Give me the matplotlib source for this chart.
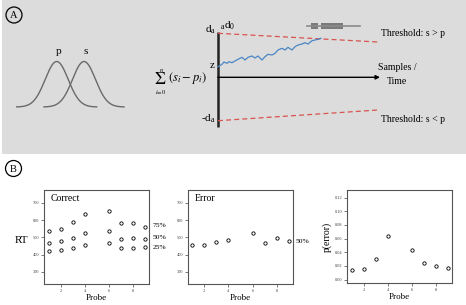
"""
Two-panel figure: (A) accumulator schematic, (B) RT quantiles and error rates by probe.
"""

import numpy as np
import matplotlib
matplotlib.use("Agg")
import matplotlib.pyplot as plt
from matplotlib.patches import Rectangle, Circle

plt.rcParams["font.family"] = ["Liberation Serif", "DejaVu Serif"]
plt.rcParams["mathtext.fontset"] = "stix"

#####################################
# Data
#####################################

probe = [1, 2, 3, 4, 6, 7, 8, 9]

rt_correct_75 = [538, 550, 590, 638, 656, 581, 583, 562]
rt_correct_50 = [467, 479, 498, 527, 540, 492, 494, 492]
rt_correct_25 = [421, 429, 438, 454, 467, 440, 440, 442]

rt_error_50 = [454, 454, 471, 483, 525, 469, 494, 477]

p_error = [0.0141, 0.0155, 0.0296, 0.0640, 0.0437, 0.0243, 0.0199, 0.0170]

# schematic pieces (panel A, pixel units)
dist_means = {"p": 56.7, "s": 84.0}
dist_sd = 11.5
walk_t = [218, 222, 224, 227, 229, 232, 235, 238, 242, 245, 248, 252, 255, 258,
          262, 265, 268, 272, 275, 278, 282, 285, 288, 292, 295, 298, 302, 305,
          308, 312, 315, 318, 321]
walk_y = [66.7, 64.3, 62.0, 63.3, 61.7, 62.7, 61.0, 59.3, 57.3, 60.0, 57.3, 56.0,
          58.0, 56.0, 60.0, 56.7, 54.3, 55.0, 53.3, 50.0, 48.3, 50.0, 47.3, 50.0,
          46.7, 45.0, 44.0, 42.7, 44.0, 40.7, 40.0, 39.3, 38.3]

#####################################
# Figure
#####################################

W, H = 466, 305
fig = plt.figure(figsize=(W / 100, H / 100), dpi=100)
fig.patch.set_facecolor("white")

# overlay axes in pixel units for the schematic
ov = fig.add_axes([0, 0, 1, 1])
ov.set_xlim(0, W)
ov.set_ylim(H, 0)
ov.axis("off")

ov.add_patch(Rectangle((2, 0), W - 2, 154, facecolor="#dcdcdc", edgecolor="none", zorder=0))

# panel letters
for lbl, cx, cy in [("A", 14, 15), ("B", 13.5, 168.5)]:
    ov.add_patch(Circle((cx, cy), 8, facecolor="none", edgecolor="black", lw=0.9))
    ov.text(cx, cy + 0.5, lbl, ha="center", va="center", fontsize=7.5)

# two overlapping distributions
for name, mu in dist_means.items():
    xs = np.linspace(mu - 40, mu + 40, 200)
    ys = 107 - 45.5 * np.exp(-0.5 * ((xs - mu) / dist_sd) ** 2)
    ov.plot(xs, ys, color="#6a6a6a", lw=1.0)
    ov.text(mu + 1.5, 56, name, ha="center", va="bottom", fontsize=8)

# summation label
ov.text(160.5, 80.5, r"$\Sigma$", ha="center", va="center", fontsize=12.5)
ov.text(161, 70.5, r"$n$", ha="center", va="center", fontsize=4.5)
ov.text(160.5, 92, r"$i\!=\!0$", ha="center", va="center", fontsize=4.5)
ov.text(167.5, 78, r"$(s_i - p_i)$", ha="left", va="center", fontsize=9)

# accumulator axes
ov.plot([217.7, 217.7], [32, 127], color="#222222", lw=1.8, solid_capstyle="butt")
ov.annotate("", xy=(380, 77.3), xytext=(217.7, 77.3),
            arrowprops=dict(arrowstyle="-|>", color="black", lw=1.0,
                            mutation_scale=6, shrinkA=0, shrinkB=0))

# thresholds
ov.plot([218, 378], [33.3, 42], color="#d9534f", lw=0.9, ls=(0, (4, 2.5)))
ov.plot([218, 378], [120.7, 110], color="#d9534f", lw=0.9, ls=(0, (4, 2.5)))

# evidence path
ov.plot(walk_t, walk_y, color="#4a86c5", lw=0.9)

# RT distribution box
ov.plot([307, 360], [25.5, 25.5], color="#8a8a8a", lw=1.2)
ov.add_patch(Rectangle((310.7, 22.5), 7.3, 6.5, facecolor="#7a7a7a", edgecolor="none"))
ov.add_patch(Rectangle((320.7, 22.5), 22.3, 6.5, facecolor="#7a7a7a", edgecolor="none"))

# labels
ov.text(216, 30, r"d$_\mathregular{a}$", ha="right", va="center", fontsize=8)
ov.text(220, 26, r"$_\mathregular{a}$d$_\mathregular{0}$", ha="left", va="center", fontsize=8)
ov.text(215, 66, "z", ha="right", va="center", fontsize=8)
ov.text(216, 119, r"-d$_\mathregular{a}$", ha="right", va="center", fontsize=8)
ov.text(381, 33.3, "Threshold: s > p", ha="left", va="center", fontsize=7)
ov.text(381, 119, "Threshold: s < p", ha="left", va="center", fontsize=7)
ov.text(397, 68, "Samples /", ha="center", va="center", fontsize=7)
ov.text(397, 81, "Time", ha="center", va="center", fontsize=7)

#####################################
# Panel B
#####################################

def style(ax):
    for sp in ax.spines.values():
        sp.set_color("#555555")
        sp.set_linewidth(0.8)
    ax.tick_params(length=2, width=0.5, labelsize=3.2, colors="#444444", pad=1.5)
    ax.set_xticks([2, 4, 6, 8])
    ax.set_xlabel("Probe", fontsize=6.5, labelpad=1)
    ax.patch.set_alpha(0)

mk = dict(ls="none", marker="o", ms=2.4, mfc="white", mec="black", mew=0.6)

ax1 = fig.add_axes([44 / W, 21 / H, 105 / W, 94 / H])
for vals in (rt_correct_75, rt_correct_50, rt_correct_25):
    ax1.plot(probe, vals, **mk)
ax1.set_xlim(0.6, 9.3)
ax1.set_ylim(230, 775)
ax1.set_yticks([300, 400, 500, 600, 700])
style(ax1)
ax1.text(0.065, 0.905, "Correct", transform=ax1.transAxes, ha="left", va="center", fontsize=7)
ov.text(15, 240.7, "RT", ha="left", va="center", fontsize=8)
ov.text(153, 225.3, "75%", ha="left", va="center", fontsize=5.4)
ov.text(153, 237.7, "50%", ha="left", va="center", fontsize=5.4)
ov.text(153, 247.3, "25%", ha="left", va="center", fontsize=5.4)

ax2 = fig.add_axes([188 / W, 21 / H, 105 / W, 94 / H])
ax2.plot(probe, rt_error_50, **mk)
ax2.set_xlim(0.7, 9.3)
ax2.set_ylim(230, 775)
ax2.set_yticks([300, 400, 500, 600, 700])
style(ax2)
ax2.text(0.065, 0.905, "Error", transform=ax2.transAxes, ha="left", va="center", fontsize=7)
ov.text(296, 241.3, "50%", ha="left", va="center", fontsize=5.4)

ax3 = fig.add_axes([347 / W, 22 / H, 105 / W, 93 / H])
ax3.plot(probe, p_error, **mk)
ax3.set_xlim(0.6, 9.35)
ax3.set_ylim(-0.0049, 0.131)
ax3.set_yticks([0.00, 0.02, 0.04, 0.06, 0.08, 0.10, 0.12])
ax3.set_yticklabels([f"{v:.2f}" for v in ax3.get_yticks()])
style(ax3)
ax3.set_ylabel("p(error)", fontsize=7, labelpad=2)

fig.savefig("out.png", dpi=100)
